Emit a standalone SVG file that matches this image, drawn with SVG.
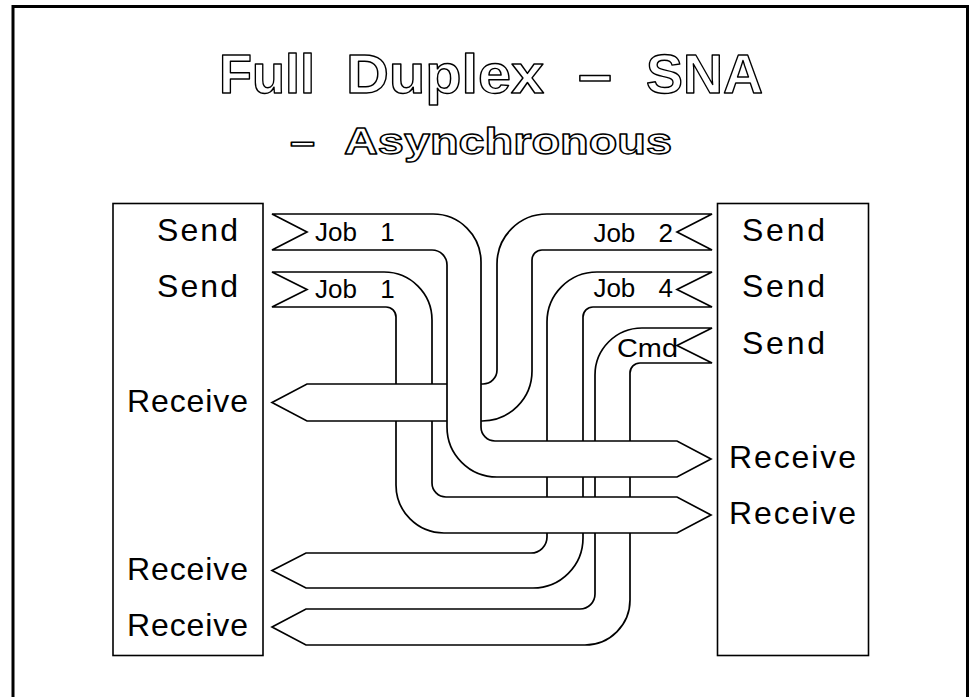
<svg xmlns="http://www.w3.org/2000/svg" width="969" height="697" viewBox="0 0 969 697">
<style>
.frame{fill:none;stroke:#000;stroke-width:3}
.box{fill:#fff;stroke:#000;stroke-width:1.6}
.rib{fill:#fff;stroke:#000;stroke-width:1.7;stroke-linejoin:miter}
.title{font-family:"Liberation Sans",Arial,sans-serif;font-weight:bold;fill:#fff;stroke:#000;stroke-width:1.4;stroke-linejoin:round}
.lbl{font-family:"Liberation Sans",Arial,sans-serif;font-size:32px;fill:#000}
.job{font-family:"Liberation Sans",Arial,sans-serif;font-size:26px;fill:#000;word-spacing:16px}
</style>
<rect width="969" height="697" fill="#fff"/>
<path class="frame" d="M13,697 V6.5 H967.5 V697"/>
<g id="title">
<text class="title" y="93" font-size="56"><tspan x="219" textLength="96" lengthAdjust="spacingAndGlyphs">Full</tspan><tspan x="346" textLength="198" lengthAdjust="spacingAndGlyphs">Duplex</tspan><tspan x="578" textLength="34" lengthAdjust="spacingAndGlyphs">–</tspan><tspan x="646" textLength="117" lengthAdjust="spacingAndGlyphs">SNA</tspan></text>
<text class="title" y="154" font-size="37"><tspan x="290" textLength="25" lengthAdjust="spacingAndGlyphs">–</tspan><tspan x="344" textLength="328" lengthAdjust="spacingAndGlyphs">Asynchronous</tspan></text>
</g>
<g id="left-station">
<rect class="box" x="113" y="203.5" width="150" height="452"/>
<text class="lbl" x="157" y="241" textLength="81">Send</text>
<text class="lbl" x="157" y="297" textLength="81">Send</text>
<text class="lbl" x="127" y="412" textLength="121">Receive</text>
<text class="lbl" x="127" y="580" textLength="121">Receive</text>
<text class="lbl" x="127" y="636" textLength="121">Receive</text>
</g>
<g id="right-station">
<rect class="box" x="717.5" y="203.5" width="151" height="452"/>
<text class="lbl" x="742" y="241" textLength="83">Send</text>
<text class="lbl" x="742" y="297" textLength="83">Send</text>
<text class="lbl" x="742" y="354" textLength="83">Send</text>
<text class="lbl" x="729" y="468" textLength="127">Receive</text>
<text class="lbl" x="729" y="524" textLength="127">Receive</text>
</g>
<g id="connectors">
<g id="cmd-flow">
<path class="rib" d="M712,328 L642,328 A47,47 0 0 0 595,375 L595,594 A15,15 0 0 1 580,609 L306,609 L272,627 L306,645 L585,645 A45,45 0 0 0 630,600 L630,373 A10,10 0 0 1 640,363 L712,363 L677,345.5 Z"/>
<text class="job" x="617" y="357" textLength="61" lengthAdjust="spacingAndGlyphs">Cmd</text>
</g>
<g id="job4-flow">
<path class="rib" d="M712,272 L597,272 A50,50 0 0 0 547,322 L547,537 A16,16 0 0 1 531,553 L306,553 L272,570.5 L306,588 L533,588 A50,50 0 0 0 583,538 L583,317 A10,10 0 0 1 593,307 L712,307 L677,289.5 Z"/>
<text class="job" x="673" y="297" text-anchor="end">Job 4</text>
</g>
<g id="job1b-flow">
<path class="rib" d="M272,272 L384,272 A48,48 0 0 1 432,320 L432,483 A14,14 0 0 0 446,497 L677,497 L711,515 L677,533 L444,533 A48,48 0 0 1 396,485 L396,317 A10,10 0 0 0 386,307 L272,307 L307,289.5 Z"/>
<text class="job" x="315" y="298">Job 1</text>
</g>
<g id="job2-flow">
<path class="rib" d="M712,214 L547,214 A50,50 0 0 0 497,264 L497,370 A14,14 0 0 1 483,384 L307,384 L272,402.5 L307,421 L482,421 A50,50 0 0 0 532,371 L532,260 A10,10 0 0 1 542,250 L712,250 L677,232 Z"/>
<text class="job" x="673" y="242" text-anchor="end">Job 2</text>
</g>
<g id="job1a-flow">
<path class="rib" d="M272,214 L433,214 A48,48 0 0 1 481,262 L481,427 A14,14 0 0 0 495,441 L677,441 L711,459 L677,477 L497,477 A50,50 0 0 1 447,427 L447,265 A15,15 0 0 0 432,250 L272,250 L307,232 Z"/>
<text class="job" x="315" y="241">Job 1</text>
</g>
</g>
</svg>
